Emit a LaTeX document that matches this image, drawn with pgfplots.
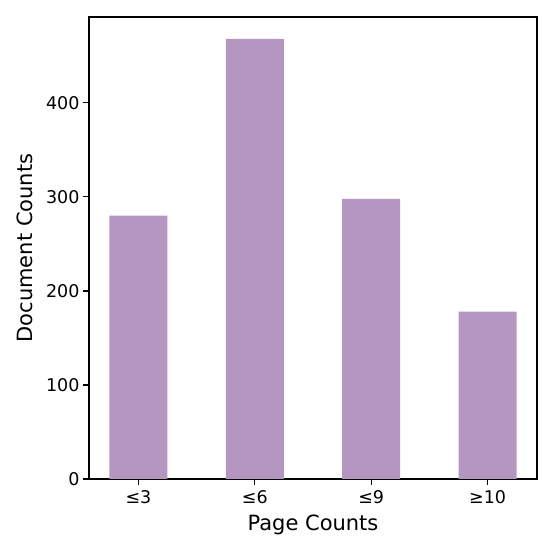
\documentclass[border=0pt]{standalone}
\usepackage{pgfplots}
\pgfplotsset{compat=1.18}
\usepackage{fontspec}
\setmainfont{DejaVu Sans}
\definecolor{barc}{RGB}{180,150,192}
\begin{document}
\begin{tikzpicture}[x=1pt,y=1pt]
\useasboundingbox (0,0) rectangle (554,554);
\begin{axis}[
  at={(89pt,75pt)}, anchor=south west,
  scale only axis, width=448pt, height=462pt,
  xmin=-0.425, xmax=3.425, ymin=0, ymax=491.4,
  xtick={0,1,2,3}, xticklabels={≤3,≤6,≤9,≥10},
  ytick={0,100,200,300,400},
  tick align=outside, tick pos=lower,
  major tick length=6pt,
  every tick/.style={black, line width=1.1pt},
  axis line style={line width=1.1pt},
  /pgf/number format/assume math mode=true,
  tick label style={font=\fontsize{17.5}{20}\selectfont},
  xticklabel style={yshift=-2pt},
  label style={font=\fontsize{21}{25}\selectfont},
  xlabel={Page Counts}, ylabel={Document Counts},
  xlabel style={at={(axis description cs:0.5,0)}, anchor=north, yshift=-32pt},
  ylabel style={at={(axis description cs:0,0.5)}, anchor=south, yshift=53pt},
]
\addplot[ybar, bar width=58pt, fill=barc, draw=none] coordinates {(0,280) (1,468) (2,298) (3,178)};
\end{axis}
\end{tikzpicture}
\end{document}
